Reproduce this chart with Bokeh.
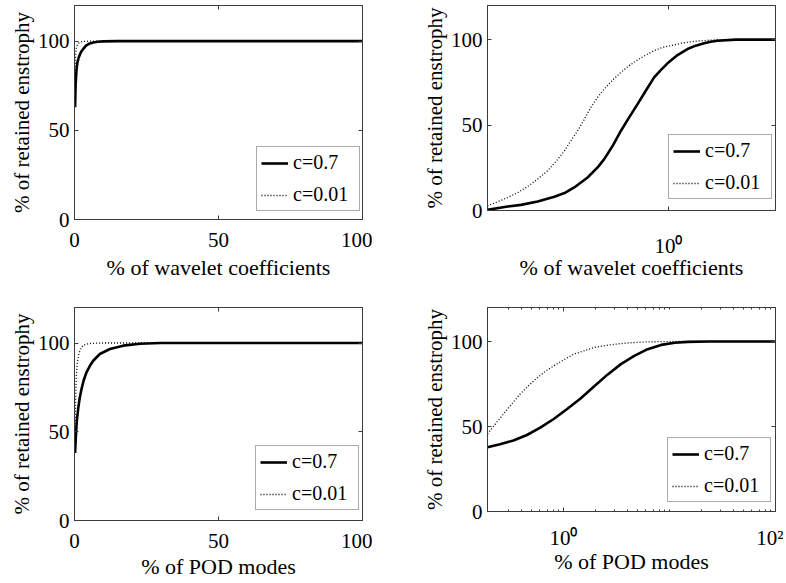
from bokeh.plotting import figure
from bokeh.layouts import column, row
from bokeh.models import (FixedTicker, LinearAxis, LogAxis, Range1d, Legend, LegendItem,
                          CustomJSTickFormatter, BasicTickFormatter)
from bokeh.embed import file_html
from bokeh.resources import INLINE

# ---------------- data ----------------
# top-left: linear axis, % of wavelet coefficients
tl_x_c07 = [0.2, 0.4, 0.7, 1.0, 1.5, 2.0, 2.5, 3.0, 4.0, 5.0, 6.5, 8.0, 10, 15, 20, 40, 60, 80, 100]
tl_c07 = [63, 76, 84, 88, 91, 93, 94.5, 95.5, 97.5, 98.5, 99.3, 99.7, 99.9, 100, 100, 100, 100, 100, 100]
tl_x_c001 = [0.2, 0.3, 0.4, 0.5, 0.7, 1.0, 1.5, 2.0, 3.0, 5.0, 10, 20, 50, 100]
tl_c001 = [84, 88, 91, 94, 96.5, 98, 99, 99.5, 99.8, 100, 100, 100, 100, 100]

# top-right: log axis, % of wavelet coefficients
tr_x_c07 = [0.156, 0.192, 0.220, 0.261, 0.310, 0.344, 0.380, 0.436, 0.483, 0.517, 0.564,
            0.614, 0.668, 0.728, 0.792, 0.863, 0.924, 1.0, 1.097, 1.215, 1.323, 1.442,
            1.543, 1.652, 2.0, 3.0]
tr_c07 = [0.4, 2.3, 3.3, 5.3, 8.0, 10.2, 13.5, 19.3, 25.2, 30.1, 37.9,
          46.7, 54.5, 62.3, 70.1, 77.9, 82.2, 86.7, 91.0, 94.5, 96.5, 97.9,
          98.8, 99.4, 100, 100]
tr_x_c001 = [0.156, 0.173, 0.192, 0.213, 0.236, 0.261, 0.289, 0.315, 0.344, 0.367, 0.394,
             0.422, 0.451, 0.483, 0.517, 0.564, 0.614, 0.668, 0.728, 0.792, 0.863, 0.940,
             1.024, 1.154, 1.30, 1.49, 1.652, 3.0]
tr_c001 = [2.7, 5.1, 7.6, 10.5, 14.1, 18.4, 23.2, 28.7, 35.0, 40.8, 46.7,
           53.5, 60.4, 66.2, 71.1, 76.4, 80.9, 84.8, 88.1, 91.0, 93.6, 95.5,
           96.5, 98.0, 99.0, 99.6, 100, 100]

# bottom-left: linear axis, % of POD modes
bl_x_c07 = [0.2, 0.5, 0.8, 1.28, 1.8, 2.43, 3.2, 4.17, 5.3, 6.5, 8.8, 12.3, 16.9, 22.7, 30, 50, 75, 100]
bl_c07 = [38, 48, 56, 63, 69, 74, 79, 83.5, 87, 90, 93.8, 96.6, 98.5, 99.6, 100, 100, 100, 100]
bl_x_c001 = [0.2, 0.35, 0.5, 0.7, 1.0, 1.5, 2.4, 3.2, 4.2, 6, 10, 20, 100]
bl_c001 = [46, 64, 76, 83.5, 89, 94, 97.6, 98.8, 99.4, 99.8, 100, 100, 100]

# bottom-right: log axis, % of POD modes
br_x_c07 = [0.192, 0.252, 0.337, 0.452, 0.604, 0.809, 1.082, 1.449, 1.94, 2.60, 3.48,
            4.65, 6.22, 8.34, 11.2, 14.9, 23.1, 100]
br_c07 = [37.8, 39.5, 41.8, 45.0, 49.3, 54.4, 60.3, 66.5, 73.5, 80.5, 86.7,
          91.5, 95.5, 98.0, 99.3, 99.8, 100, 100]
br_x_c001 = [0.192, 0.234, 0.271, 0.325, 0.390, 0.468, 0.561, 0.674, 0.809, 1.006, 1.25,
             1.56, 1.94, 2.60, 3.48, 4.65, 6.22, 10.4, 100]
br_c001 = [45.6, 52.4, 57.3, 63.2, 69.1, 74.0, 78.5, 82.4, 85.7, 89.2, 92.6,
           94.5, 96.5, 97.8, 98.8, 99.4, 99.8, 100, 100]

y_ticks = [0, 50, 100]
lin_x_ticks = [0, 50, 100]
legend_labels = ["c=0.7", "c=0.01"]
y_label = "% of retained enstrophy"
x_label_wavelet = "% of wavelet coefficients"
x_label_pod = "% of POD modes"

FONT = "Liberation Serif"
AX = "#3a3a3a"

LOG_FMT = CustomJSTickFormatter(code="""
const sup = {0: '\u2070', 1: '\u00b9', 2: '\u00b2', 3: '\u00b3'};
const e = Math.round(Math.log10(tick));
return '10' + (sup[e] !== undefined ? sup[e] : String(e));
""")


def style_axis(ax, label_standoff=8):
    ax.axis_line_color = AX
    ax.major_tick_in = 4
    ax.major_tick_out = 0
    ax.minor_tick_in = 2
    ax.minor_tick_out = 0
    ax.major_tick_line_color = AX
    ax.minor_tick_line_color = AX
    ax.major_label_text_font = FONT
    ax.major_label_text_font_size = "21px"
    ax.major_label_text_color = "black"
    ax.major_label_standoff = label_standoff
    ax.axis_label_text_font = FONT
    ax.axis_label_text_font_size = "22px"
    ax.axis_label_text_font_style = "normal"
    ax.axis_label_text_color = "black"


def mirror_axis(ax):
    style_axis(ax, 0)
    ax.formatter = BasicTickFormatter()
    ax.major_label_text_font_size = "1px"
    ax.major_label_text_color = None
    ax.major_label_standoff = 0


def make_plot(xs1, ys1, xs2, ys2, xlabel, log, xr, fh, bl, br, bt, bb,
              xticks, minor, x_standoff, x_label_standoff, leg_loc):
    p = figure(
        x_axis_type="log" if log else "linear",
        x_range=Range1d(*xr), y_range=Range1d(0, 120),
        frame_width=288, frame_height=fh,
        min_border_left=bl, min_border_right=br,
        min_border_top=bt, min_border_bottom=bb,
        output_backend="svg", toolbar_location=None,
        background_fill_color="white", border_fill_color="white",
    )
    p.grid.visible = False
    p.outline_line_color = AX
    p.outline_line_width = 1
    p.outline_line_alpha = 1

    xt = FixedTicker(ticks=xticks, minor_ticks=minor)
    yt = FixedTicker(ticks=y_ticks, minor_ticks=[])

    p.xaxis.ticker = xt
    p.yaxis.ticker = yt
    p.xaxis.axis_label = xlabel
    p.yaxis.axis_label = y_label
    style_axis(p.xaxis[0], x_standoff)
    style_axis(p.yaxis[0], 5)
    p.yaxis[0].axis_label_text_font_size = "21px"
    p.yaxis[0].axis_label_standoff = 1
    p.xaxis[0].axis_label_standoff = x_label_standoff
    if log:
        p.xaxis[0].formatter = LOG_FMT

    top = LogAxis(ticker=xt) if log else LinearAxis(ticker=xt)
    mirror_axis(top)
    p.add_layout(top, "above")
    right = LinearAxis(ticker=yt)
    mirror_axis(right)
    p.add_layout(right, "right")

    r2 = p.line(xs2, ys2, line_color="black", line_width=1.3, line_dash="1 2")
    r1 = p.line(xs1, ys1, line_color="black", line_width=2.6)

    leg = Legend(items=[LegendItem(label=legend_labels[0], renderers=[r1]),
                        LegendItem(label=legend_labels[1], renderers=[r2])])
    leg.location = leg_loc
    leg.padding = 4
    leg.spacing = 9
    leg.glyph_width = 27
    leg.glyph_height = 20
    leg.label_standoff = 5
    leg.label_width = 62
    leg.label_text_font = FONT
    leg.label_text_font_size = "20px"
    leg.label_text_color = "black"
    leg.border_line_color = "#555555"
    leg.border_line_width = 1
    leg.background_fill_color = "white"
    leg.background_fill_alpha = 1
    p.add_layout(leg)
    return p


log_minor_pod = [0.3, 0.4, 0.5, 0.6, 0.7, 0.8, 0.9, 2, 3, 4, 5, 6, 7, 8, 9, 10,
                 20, 30, 40, 50, 60, 70, 80, 90]

p_tl = make_plot(tl_x_c07, tl_c07, tl_x_c001, tl_c001, x_label_wavelet, False,
                 (0, 100), 214, 74, 10, 5, 71, lin_x_ticks, [], 13, 5, (182, 8))
p_tr = make_plot(tr_x_c07, tr_c07, tr_x_c001, tr_c001, x_label_wavelet, True,
                 (0.156, 3.0), 205, 115, 8, 5, 80, [1], [], 23, -6, (181, 11))
p_bl = make_plot(bl_x_c07, bl_c07, bl_x_c001, bl_c001, x_label_pod, False,
                 (0, 100), 213, 74, 10, 17, 10, lin_x_ticks, [], 13, 3, (181, 10))
p_br = make_plot(br_x_c07, br_c07, br_x_c001, br_c001, x_label_pod, True,
                 (0.192, 100), 204, 115, 8, 17, 10, [1, 100], log_minor_pod, 14, -4, (180, 9))

layout = column(row(p_tl, p_tr), row(p_bl, p_br))
open("out.html", "w").write(file_html(layout, INLINE))
